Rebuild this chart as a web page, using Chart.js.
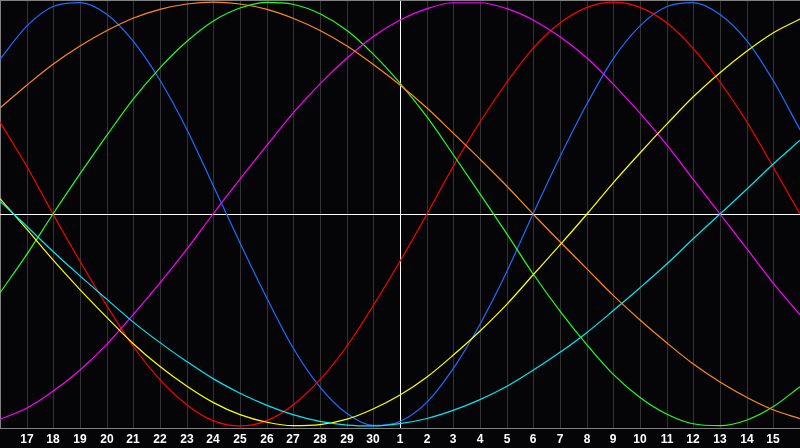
<!DOCTYPE html>
<html>
<head>
<meta charset="utf-8">
<script src="https://cdn.jsdelivr.net/npm/chart.js@4/dist/chart.umd.min.js"></script>
<style>
    html, body { margin: 0; padding: 0; background: #050508; }
    #wrap { width: 800px; height: 448px; }
</style>
</head>
<body>
<div id="wrap"><canvas id="myChart" width="800" height="448"></canvas></div>
<script>
// Tage (16. bis 16.), Mitte = 1.
var days = [16, 17, 18, 19, 20, 21, 22, 23, 24, 25, 26, 27, 28, 29, 30,
            1, 2, 3, 4, 5, 6, 7, 8, 9, 10, 11, 12, 13, 14, 15, 16];

var physical = [0.731, 0.888, 0.979, 0.998, 0.942, 0.817, 0.631, 0.398, 0.136, -0.136, -0.398, -0.631, -0.817, -0.942, -0.998,
                -0.979, -0.888, -0.731, -0.520, -0.270, 0, 0.270, 0.520, 0.731, 0.888, 0.979, 0.998, 0.942, 0.817, 0.631, 0.398];
var emotional = [0.434, 0.223, 0, -0.223, -0.434, -0.623, -0.782, -0.901, -0.975, -1, -0.975, -0.901, -0.782, -0.623, -0.434,
                 -0.223, 0, 0.223, 0.434, 0.623, 0.782, 0.901, 0.975, 1, 0.975, 0.901, 0.782, 0.623, 0.434, 0.223, 0];
var intellectual = [-0.372, -0.189, 0, 0.189, 0.372, 0.541, 0.690, 0.815, 0.910, 0.972, 0.999, 0.990, 0.945, 0.866, 0.756,
                    0.618, 0.458, 0.282, 0.095, -0.095, -0.282, -0.458, -0.618, -0.756, -0.866, -0.945, -0.990, -0.999, -0.972, -0.910, -0.815];
var intuitive = [-0.969, -0.916, -0.837, -0.736, -0.614, -0.476, -0.325, -0.165, 0, 0.165, 0.325, 0.476, 0.614, 0.736, 0.837,
                 0.916, 0.969, 0.997, 0.997, 0.969, 0.916, 0.837, 0.736, 0.614, 0.476, 0.325, 0.165, 0, -0.165, -0.325, -0.476];
var aesthetic = [0.073, -0.073, -0.217, -0.357, -0.489, -0.611, -0.720, -0.813, -0.889, -0.947, -0.983, -0.999, -0.994, -0.968, -0.920,
                 -0.854, -0.769, -0.667, -0.552, -0.425, -0.288, -0.146, 0, 0.146, 0.288, 0.425, 0.552, 0.667, 0.769, 0.854, 0.920];
var awareness = [0.500, 0.609, 0.707, 0.793, 0.866, 0.924, 0.966, 0.991, 1, 0.991, 0.966, 0.924, 0.866, 0.793, 0.707,
                 0.609, 0.500, 0.383, 0.259, 0.131, 0, -0.131, -0.259, -0.383, -0.500, -0.609, -0.707, -0.793, -0.866, -0.924, -0.966];
var spiritual = [0.059, -0.059, -0.177, -0.292, -0.403, -0.509, -0.607, -0.697, -0.777, -0.846, -0.903, -0.947, -0.979, -0.996, -1,
                 -0.989, -0.965, -0.927, -0.876, -0.813, -0.738, -0.653, -0.559, -0.457, -0.348, -0.235, -0.118, 0, 0.118, 0.235, 0.348];

function pts(arr) {
    return arr.map(function (v, i) { return { x: i, y: v }; });
}

function line(arr, color) {
    return {
        data: pts(arr),
        borderColor: color,
        borderWidth: 1.2,
        pointRadius: 0,
        cubicInterpolationMode: 'monotone', // glatter als tension bei Sinus
        fill: false
    };
}

// Rahmen oben + Nulllinie
var frame = {
    id: 'frame',
    beforeDatasetsDraw: function (chart) {
        var c = chart.ctx, a = chart.chartArea;
        var y0 = Math.round(chart.scales.y.getPixelForValue(0)) + 0.5;
        c.save();
        c.lineWidth = 1;
        c.strokeStyle = '#808080';
        c.beginPath();
        c.moveTo(a.left, a.top + 0.5);
        c.lineTo(a.right, a.top + 0.5);
        c.stroke();
        c.strokeStyle = '#ffffff';
        c.beginPath();
        c.moveTo(a.left, y0);
        c.lineTo(a.right, y0);
        c.stroke();
        c.restore();
    }
};

var ctx = document.getElementById('myChart').getContext('2d');
var myChartInstance = new Chart(ctx, {
    type: 'line',
    data: {
        datasets: [
            line(spiritual, '#00e8f0'),
            line(aesthetic, '#ffff00'),
            line(awareness, '#ff8a1c'),
            line(intuitive, '#ff00ff'),
            line(intellectual, '#22ff22'),
            line(emotional, '#ff0000'),
            line(physical, '#1e6eff')
        ]
    },
    options: {
        responsive: false,
        animation: false,
        layout: { padding: 0 },
        scales: {
            x: {
                type: 'linear',
                min: 0,
                max: 30,
                alignToPixels: true,
                afterFit: function (s) { s.height = 20; s.paddingLeft = 0; s.paddingRight = 0; },
                grid: {
                    color: function (c) {
                        if (c.tick.value === 15) return '#ffffff';
                        if (c.tick.value === 0) return '#808080';
                        return '#333333';
                    },
                    drawTicks: false
                },
                border: { display: true, color: '#808080' },
                ticks: {
                    stepSize: 1,
                    autoSkip: false,
                    maxRotation: 0,
                    padding: 4,
                    color: '#ffffff',
                    font: { family: 'Liberation Sans', size: 12, weight: 'bold' },
                    callback: function (v) {
                        if (v <= 0 || v >= 30) return '';
                        return String(days[v]);
                    }
                }
            },
            y: {
                display: false,
                min: -1.01,
                max: 1.01
            }
        },
        plugins: {
            legend: { display: false },
            tooltip: { enabled: false }
        }
    },
    plugins: [frame]
});
</script>
</body>
</html>
